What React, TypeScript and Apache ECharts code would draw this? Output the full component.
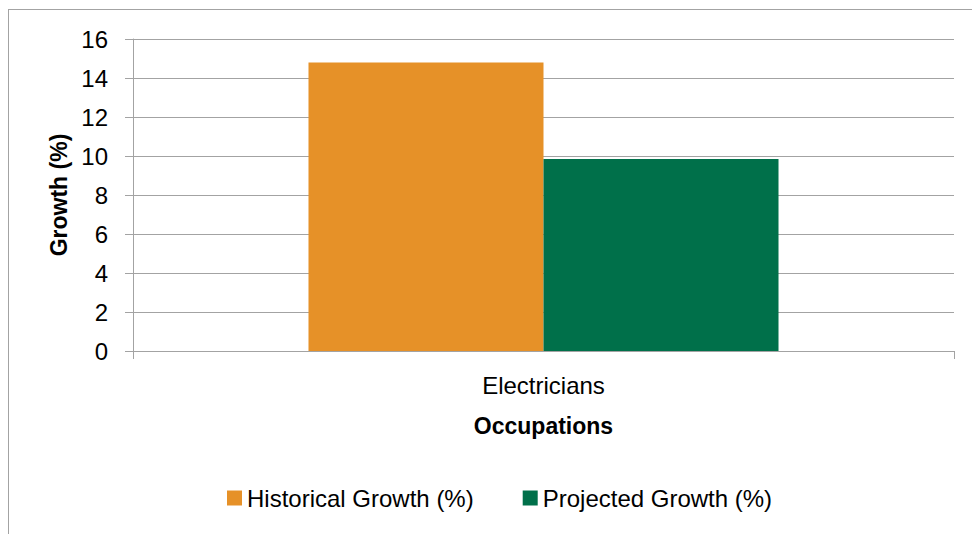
import React, { useEffect, useRef } from "react";
import * as echarts from "echarts";

const categories = ["Electricians"];
const historicalGrowth = [14.8];
const projectedGrowth = [9.85];
const seriesNames = ["Historical Growth (%)", "Projected Growth (%)"];
const yTicks = { min: 0, max: 16, interval: 2 };

const FONT = "'Liberation Sans', Arial, sans-serif";
const AXIS_GRAY = "#a3a3a3";

export default function App() {
  const ref = useRef<HTMLDivElement>(null);
  useEffect(() => {
    if (!ref.current) return;
    const chart = echarts.init(ref.current, undefined, { renderer: "svg" });
    chart.setOption({
      animation: false,
      backgroundColor: "#ffffff",
      textStyle: { fontFamily: FONT },
      graphic: [
        { type: "line", shape: { x1: 8.5, y1: 9, x2: 8.5, y2: 534 }, style: { stroke: AXIS_GRAY, lineWidth: 1 } },
        { type: "line", shape: { x1: 8, y1: 9.5, x2: 972, y2: 9.5 }, style: { stroke: AXIS_GRAY, lineWidth: 1 } },
      ],
      grid: { left: 133, top: 39, right: 18, bottom: 183, containLabel: false },
      legend: {
        left: 222,
        top: 481,
        itemWidth: 15,
        itemHeight: 15,
        itemGap: 49,
        icon: "rect",
        textStyle: { fontFamily: FONT, fontSize: 24, color: "#000" },
        data: seriesNames,
      },
      xAxis: {
        type: "category",
        data: categories,
        name: "Occupations",
        nameLocation: "middle",
        nameGap: 63,
        nameTextStyle: { fontFamily: FONT, fontSize: 23, fontWeight: "bold", color: "#000" },
        axisLine: { show: true, lineStyle: { color: AXIS_GRAY, width: 1 } },
        axisTick: { show: true, length: 8, lineStyle: { color: AXIS_GRAY } },
        axisLabel: { margin: 22, fontFamily: FONT, fontSize: 24, color: "#000" },
      },
      yAxis: {
        type: "value",
        min: yTicks.min,
        max: yTicks.max,
        interval: yTicks.interval,
        name: "Growth (%)",
        nameLocation: "middle",
        nameRotate: 90,
        nameGap: 61,
        nameTextStyle: { fontFamily: FONT, fontSize: 23, fontWeight: "bold", color: "#000" },
        axisLine: { show: true, lineStyle: { color: AXIS_GRAY, width: 1 } },
        axisTick: { show: true, length: 8, lineStyle: { color: AXIS_GRAY } },
        axisLabel: { margin: 25, fontFamily: FONT, fontSize: 24, color: "#000" },
        splitLine: { show: true, lineStyle: { color: AXIS_GRAY, width: 1 } },
      },
      series: [
        {
          name: seriesNames[0],
          type: "bar",
          data: historicalGrowth,
          itemStyle: { color: "#E69128" },
          barGap: "0%",
          barCategoryGap: "42.75%",
        },
        {
          name: seriesNames[1],
          type: "bar",
          data: projectedGrowth,
          itemStyle: { color: "#00704A" },
          barGap: "0%",
          barCategoryGap: "42.75%",
        },
      ],
    });
    return () => chart.dispose();
  }, []);
  return (
    <div
      ref={ref}
      style={{ position: "fixed", left: 0, top: 0, width: 972, height: 534, background: "#fff" }}
    />
  );
}
